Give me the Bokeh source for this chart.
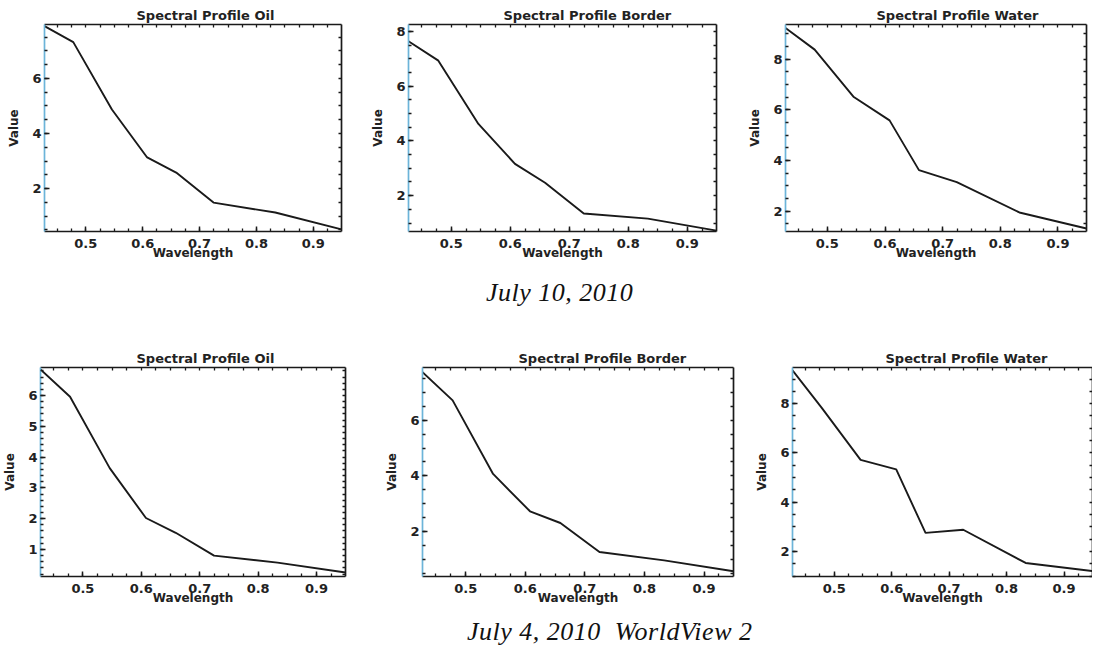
import numpy as np
from bokeh.plotting import figure
from bokeh.layouts import column, row
from bokeh.models import Div, LinearAxis, FixedTicker, Range1d
from bokeh.embed import file_html
from bokeh.resources import INLINE

# ---------------- data ----------------
wavelength = [0.4274, 0.4780, 0.5459, 0.6079, 0.6589, 0.7245, 0.8331, 0.9495]

oil_jul10 = [7.90, 7.32, 4.87, 3.13, 2.58, 1.49, 1.13, 0.52]
border_jul10 = [7.64, 6.93, 4.62, 3.16, 2.47, 1.35, 1.16, 0.72]
water_jul10 = [9.22, 8.37, 6.50, 5.58, 3.62, 3.15, 1.95, 1.32]

oil_jul04 = [6.85, 5.96, 3.64, 2.02, 1.54, 0.80, 0.57, 0.25]
border_jul04 = [7.72, 6.71, 4.07, 2.73, 2.31, 1.27, 0.97, 0.58]
water_jul04 = [9.35, 7.84, 5.72, 5.33, 2.75, 2.88, 1.53, 1.20]

titles_top = ["Spectral Profile Oil", "Spectral Profile Border", "Spectral Profile  Water"]
titles_bottom = ["Spectral Profile  Oil", "Spectral Profile Border", "Spectral Profile  Water"]

x_ticks = [0.5, 0.6, 0.7, 0.8, 0.9]
y_ticks_top = [[2, 4, 6], [2, 4, 6, 8], [2, 4, 6, 8]]
y_ticks_bottom = [[1, 2, 3, 4, 5, 6], [2, 4, 6], [2, 4, 6, 8]]
y_ranges_top = [(0.44, 7.96), (0.69, 8.25), (1.20, 9.36)]
y_ranges_bottom = [(0.12, 6.91), (0.39, 7.89), (0.98, 9.47)]
x_range = (0.4274, 0.9495)

caption_top = "July 10, 2010"
caption_bottom = "July 4, 2010&nbsp; WorldView 2"

FONT = "DejaVu Sans"
BLUE = "#6cb4d9"
INK = "#1a1a1a"


def minor_list(lo, hi, step):
    return [float(v) for v in np.round(np.arange(np.floor(lo / step) * step, hi + step, step), 4)]


def panel(title, vals, yr, yticks, ystep, fw, fh, bl, br, bt, bb, toff):
    p = figure(frame_width=fw, frame_height=fh,
               min_border_left=bl, min_border_right=br,
               min_border_top=bt, min_border_bottom=bb,
               x_range=Range1d(*x_range), y_range=Range1d(*yr),
               output_backend="svg", toolbar_location=None, tools="",
               title=title)
    p.outline_line_color = None
    p.grid.visible = False
    p.background_fill_color = "white"
    p.border_fill_color = "white"

    p.title.align = "left"
    p.title.offset = toff
    p.title.standoff = 3
    p.title.text_font = FONT
    p.title.text_font_size = "13px"
    p.title.text_font_style = "bold"
    p.title.text_color = "#222222"

    p.line(wavelength, vals, line_color=INK, line_width=1.9)

    x_minor = minor_list(0.4, 1.0, 0.025)
    y_minor = minor_list(0, yr[1] + 1, ystep)
    xt = FixedTicker(ticks=x_ticks, minor_ticks=x_minor)
    yt = FixedTicker(ticks=yticks, minor_ticks=y_minor)
    # top / right frame: tick marks only (no labels)
    xt_top = FixedTicker(ticks=[], minor_ticks=x_minor)
    yt_right = FixedTicker(ticks=[], minor_ticks=y_minor)

    xa = p.xaxis[0]
    xa.ticker = xt
    xa.axis_label = "Wavelength"
    ya = p.yaxis[0]
    ya.ticker = yt
    ya.axis_label = "Value"

    top = LinearAxis(ticker=xt_top)
    right = LinearAxis(ticker=yt_right)
    p.add_layout(top, "above")
    p.add_layout(right, "right")

    for ax in (xa, ya, top, right):
        ax.major_tick_in = 5
        ax.major_tick_out = 0
        ax.minor_tick_in = 3
        ax.minor_tick_out = 0
        ax.axis_line_width = 1.7
        ax.axis_line_color = INK
        ax.major_tick_line_color = INK
        ax.minor_tick_line_color = INK
        ax.major_tick_line_width = 1.5
        ax.minor_tick_line_width = 1.3
        ax.major_label_text_font = FONT
        ax.major_label_text_font_style = "bold"
        ax.major_label_text_font_size = "13px"
        ax.major_label_text_color = "#222222"
        ax.axis_label_text_font = FONT
        ax.axis_label_text_font_style = "bold"
        ax.axis_label_text_font_size = "12px"
        ax.axis_label_text_color = "#222222"
    for ax in (top, right):
        ax.minor_tick_in = 3
        ax.major_label_standoff = 0
    ya.axis_line_color = BLUE
    ya.major_label_standoff = 3
    ya.axis_label_standoff = 8
    xa.major_label_standoff = 7
    xa.axis_label_standoff = -5
    return p


top_geom = [  # fw, fh, bl, br, bt, bb, title offset
    (297, 207, 44, 27, 24, 30, 92),
    (308, 207, 40, 29, 24, 30, 95),
    (301, 207, 40, 4, 24, 30, 91),
]
bottom_geom = [
    (305, 209, 40, 37, 27, 30, 96),
    (311, 209, 40, 19, 27, 30, 96),
    (300, 209, 40, 0, 27, 30, 93),
]

top_vals = [oil_jul10, border_jul10, water_jul10]
bottom_vals = [oil_jul04, border_jul04, water_jul04]

top_figs = []
for i in range(3):
    fw, fh, bl, br, bt, bb, toff = top_geom[i]
    top_figs.append(panel(titles_top[i], top_vals[i], y_ranges_top[i], y_ticks_top[i],
                          0.5, fw, fh, bl, br, bt, bb, toff))

bottom_figs = []
for i in range(3):
    fw, fh, bl, br, bt, bb, toff = bottom_geom[i]
    ystep = 0.2 if i == 0 else 0.5
    bottom_figs.append(panel(titles_bottom[i], bottom_vals[i], y_ranges_bottom[i], y_ticks_bottom[i],
                             ystep, fw, fh, bl, br, bt, bb, toff))

cap_style = ("font-family:'Liberation Serif';font-style:italic;font-size:26px;"
             "letter-spacing:0.5px;line-height:26px;color:#111;white-space:nowrap;")
div1 = Div(text=f'<div style="{cap_style}padding-top:18px;padding-left:486px;">{caption_top}</div>',
           width=1086, height=78, margin=0)
div2 = Div(text=f'<div style="{cap_style}padding-top:12px;padding-left:467px;">{caption_bottom}</div>',
           width=1086, height=42, margin=0)

layout = column(row(*top_figs, spacing=0), div1, row(*bottom_figs, spacing=0), div2, spacing=0)

open("out.html", "w").write(file_html(layout, INLINE))
